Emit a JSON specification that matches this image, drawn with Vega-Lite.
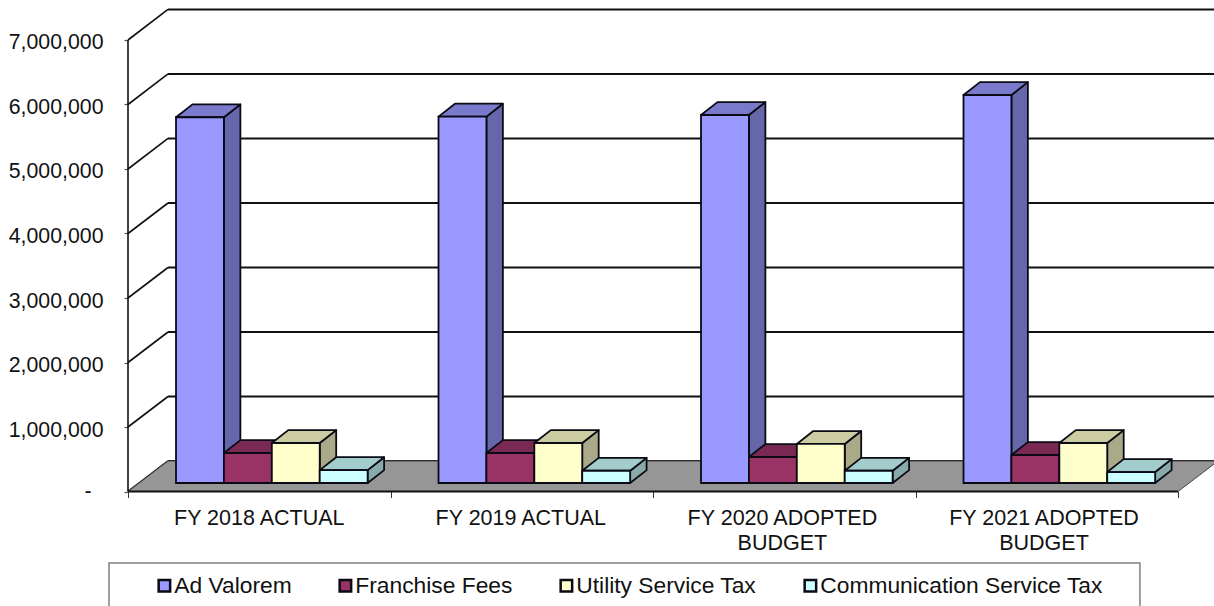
{
  "$schema": "https://vega.github.io/schema/vega-lite/v6.json",
  "width": 1214,
  "height": 606,
  "padding": 0,
  "autosize": "none",
  "background": "white",
  "config": {"view": {"stroke": null}, "text": {"font": "Liberation Sans"}},
  "datasets": {
    "bars": [
      {"category": "FY 2018 ACTUAL", "series": "Ad Valorem", "value": 5670000},
      {"category": "FY 2018 ACTUAL", "series": "Franchise Fees", "value": 465000},
      {"category": "FY 2018 ACTUAL", "series": "Utility Service Tax", "value": 620000},
      {"category": "FY 2018 ACTUAL", "series": "Communication Service Tax", "value": 200000},
      {"category": "FY 2019 ACTUAL", "series": "Ad Valorem", "value": 5680000},
      {"category": "FY 2019 ACTUAL", "series": "Franchise Fees", "value": 465000},
      {"category": "FY 2019 ACTUAL", "series": "Utility Service Tax", "value": 620000},
      {"category": "FY 2019 ACTUAL", "series": "Communication Service Tax", "value": 190000},
      {"category": "FY 2020 ADOPTED BUDGET", "series": "Ad Valorem", "value": 5705000},
      {"category": "FY 2020 ADOPTED BUDGET", "series": "Franchise Fees", "value": 403000},
      {"category": "FY 2020 ADOPTED BUDGET", "series": "Utility Service Tax", "value": 605000},
      {"category": "FY 2020 ADOPTED BUDGET", "series": "Communication Service Tax", "value": 190000},
      {"category": "FY 2021 ADOPTED BUDGET", "series": "Ad Valorem", "value": 6015000},
      {"category": "FY 2021 ADOPTED BUDGET", "series": "Franchise Fees", "value": 434000},
      {"category": "FY 2021 ADOPTED BUDGET", "series": "Utility Service Tax", "value": 620000},
      {"category": "FY 2021 ADOPTED BUDGET", "series": "Communication Service Tax", "value": 170000}
    ],
    "levels": [
      {"level": 0}, {"level": 1000000}, {"level": 2000000}, {"level": 3000000},
      {"level": 4000000}, {"level": 5000000}, {"level": 6000000}, {"level": 7000000}
    ],
    "categories": [
      {"category": "FY 2018 ACTUAL"},
      {"category": "FY 2019 ACTUAL"},
      {"category": "FY 2020 ADOPTED BUDGET"},
      {"category": "FY 2021 ADOPTED BUDGET"}
    ],
    "floorDepth": [{"depth": 0}, {"depth": 1}]
  },
  "resolve": {"axis": {"x": "independent", "y": "independent"}},
  "layer": [
    {
      "description": "Gridlines along the back wall, one per axis level",
      "data": {"name": "levels"},
      "transform": [{"calculate": "datum.level + 473000", "as": "backLevel"}],
      "mark": {"type": "rule", "stroke": "#111111", "strokeWidth": 2},
      "encoding": {
        "x": {"datum": 0.1524, "type": "quantitative", "scale": {"domain": [-0.48762, 4.13714], "nice": false, "zero": false}, "axis": null},
        "x2": {"datum": 4.13714},
        "y": {"field": "backLevel", "type": "quantitative", "scale": {"domain": [-1775000, 7620000], "nice": false, "zero": false}, "axis": null}
      }
    },
    {
      "description": "Diagonals across the side wall, joining axis ticks to the back gridlines",
      "data": {"name": "levels"},
      "transform": [{"calculate": "datum.level + 473000", "as": "backLevel"}],
      "mark": {"type": "rule", "stroke": "#111111", "strokeWidth": 1.6},
      "encoding": {
        "x": {"datum": 0, "type": "quantitative", "scale": {"domain": [-0.48762, 4.13714], "nice": false, "zero": false}, "axis": null},
        "x2": {"datum": 0.1524},
        "y": {"field": "level", "type": "quantitative", "scale": {"domain": [-1775000, 7620000], "nice": false, "zero": false},
          "axis": {"values": [0, 1000000, 2000000, 3000000, 4000000, 5000000, 6000000, 7000000], "labelExpr": "datum.value === 0 ? '' : format(datum.value, ',')", "orient": "left", "offset": -128, "domain": false, "grid": false, "title": null, "tickSize": 4, "tickColor": "#555555", "tickWidth": 1.2, "labelFont": "Liberation Sans", "labelFontSize": 21.3, "labelColor": "#111111", "labelPadding": 21, "labelOffset": 3, "labelOverlap": false, "labelBound": false, "labelFlush": false}},
        "y2": {"field": "backLevel"}
      }
    },
    {
      "description": "Dash standing for zero on the value axis, set in from the other labels",
      "data": {"values": [{}]},
      "mark": {"type": "text", "font": "Liberation Sans", "fontSize": 21.3, "fill": "#111111", "align": "center", "baseline": "middle", "text": "-"},
      "encoding": {
        "x": {"datum": -0.152, "type": "quantitative", "scale": {"domain": [-0.48762, 4.13714], "nice": false, "zero": false}, "axis": null},
        "y": {"datum": 0, "type": "quantitative", "scale": {"domain": [-1775000, 7620000], "nice": false, "zero": false}, "axis": null}
      }
    },
    {
      "description": "Gray floor of the plot box",
      "data": {"name": "floorDepth"},
      "transform": [
        {"calculate": "datum.depth * 0.1524", "as": "floorLeft"},
        {"calculate": "4 + datum.depth * 0.1524", "as": "floorRight"},
        {"calculate": "datum.depth * 473000", "as": "floorLevel"}
      ],
      "mark": {"type": "area", "orient": "horizontal", "fill": "#969696", "stroke": "#444444", "strokeWidth": 1},
      "encoding": {
        "y": {"field": "floorLevel", "type": "quantitative", "stack": false, "scale": {"domain": [-1775000, 7620000], "nice": false, "zero": false}, "axis": null},
        "x": {"field": "floorLeft", "type": "quantitative", "stack": false, "scale": {"domain": [-0.48762, 4.13714], "nice": false, "zero": false}, "axis": null},
        "x2": {"field": "floorRight"}
      }
    },
    {
      "description": "Vertical value axis line",
      "data": {"values": [{}]},
      "mark": {"type": "rule", "stroke": "#111111", "strokeWidth": 1.6},
      "encoding": {
        "x": {"datum": 0, "type": "quantitative", "scale": {"domain": [-0.48762, 4.13714], "nice": false, "zero": false}, "axis": null},
        "y": {"datum": 0, "type": "quantitative", "scale": {"domain": [-1775000, 7620000], "nice": false, "zero": false}, "axis": null},
        "y2": {"datum": 7000000}
      }
    },
    {
      "description": "Extruded columns: side faces, then top faces, then front faces, derived from each value",
      "data": {"name": "bars"},
      "transform": [
        {"calculate": "indexof(['FY 2018 ACTUAL','FY 2019 ACTUAL','FY 2020 ADOPTED BUDGET','FY 2021 ADOPTED BUDGET'], datum.category)", "as": "catIndex"},
        {"calculate": "indexof(['Ad Valorem','Franchise Fees','Utility Service Tax','Communication Service Tax'], datum.series)", "as": "serIndex"},
        {"calculate": "datum.catIndex + 0.1829 + datum.serIndex * 0.1825", "as": "barLeft"},
        {"calculate": "datum.barLeft + 0.1825", "as": "barRight"},
        {"calculate": "132000", "as": "base"},
        {"calculate": "datum.base + datum.value", "as": "barTop"}
      ],
      "layer": [
        {
          "transform": [
            {"calculate": "[0, 1]", "as": "t"},
            {"flatten": ["t"]},
            {"calculate": "datum.barRight + datum.t * 0.0627", "as": "faceX"},
            {"calculate": "datum.barTop + datum.t * 200000", "as": "faceTop"},
            {"calculate": "datum.base + datum.t * 200000", "as": "faceBottom"}
          ],
          "mark": {"type": "area", "stroke": "#0a0a14", "strokeWidth": 1.8, "strokeJoin": "round"},
          "encoding": {
            "x": {"field": "faceX", "type": "quantitative", "stack": false, "scale": {"domain": [-0.48762, 4.13714], "nice": false, "zero": false}, "axis": null},
            "y": {"field": "faceTop", "type": "quantitative", "stack": false, "scale": {"domain": [-1775000, 7620000], "nice": false, "zero": false}, "axis": null},
            "y2": {"field": "faceBottom"},
            "color": {"field": "series", "type": "nominal", "legend": null, "scale": {"domain": ["Ad Valorem", "Franchise Fees", "Utility Service Tax", "Communication Service Tax"], "range": ["#6666AA", "#662244", "#AAAA88", "#88AAAA"]}},
            "detail": {"field": "category"}
          }
        },
        {
          "transform": [
            {"calculate": "[0, 1]", "as": "t"},
            {"flatten": ["t"]},
            {"calculate": "datum.barLeft + datum.t * 0.0627", "as": "faceLeft"},
            {"calculate": "datum.barRight + datum.t * 0.0627", "as": "faceRight"},
            {"calculate": "datum.barTop + datum.t * 200000", "as": "faceLevel"}
          ],
          "mark": {"type": "area", "orient": "horizontal", "stroke": "#0a0a14", "strokeWidth": 1.8, "strokeJoin": "round"},
          "encoding": {
            "y": {"field": "faceLevel", "type": "quantitative", "stack": false, "scale": {"domain": [-1775000, 7620000], "nice": false, "zero": false}, "axis": null},
            "x": {"field": "faceLeft", "type": "quantitative", "stack": false, "scale": {"domain": [-0.48762, 4.13714], "nice": false, "zero": false}, "axis": null},
            "x2": {"field": "faceRight"},
            "color": {"field": "series", "type": "nominal", "legend": null, "scale": {"domain": ["Ad Valorem", "Franchise Fees", "Utility Service Tax", "Communication Service Tax"], "range": ["#7A7ACC", "#7A2952", "#CCCCA3", "#A3CCCC"]}},
            "detail": {"field": "category"}
          }
        },
        {
          "mark": {"type": "rect", "stroke": "#0a0a14", "strokeWidth": 1.8},
          "encoding": {
            "x": {"field": "barLeft", "type": "quantitative", "scale": {"domain": [-0.48762, 4.13714], "nice": false, "zero": false}, "axis": null},
            "x2": {"field": "barRight"},
            "y": {"field": "barTop", "type": "quantitative", "scale": {"domain": [-1775000, 7620000], "nice": false, "zero": false}, "axis": null},
            "y2": {"field": "base"},
            "color": {
              "field": "series", "type": "nominal",
              "scale": {"domain": ["Ad Valorem", "Franchise Fees", "Utility Service Tax", "Communication Service Tax"], "range": ["#9999FF", "#993366", "#FFFFCC", "#CCFFFF"]},
              "legend": {
                "orient": "none", "legendX": 153, "legendY": 574, "direction": "horizontal", "columns": 4, "title": null,
                "symbolType": "square", "symbolSize": 132, "symbolStrokeColor": "#0a0a14", "symbolStrokeWidth": 2.5,
                "labelFont": "Liberation Sans", "labelFontSize": 22.8, "labelColor": "#111111", "labelOffset": -1.5, "labelLimit": 400,
                "columnPadding": 42, "padding": 0, "symbolOpacity": 1
              }
            }
          }
        }
      ],
      "resolve": {"scale": {"color": "independent"}}
    },
    {
      "description": "Front edge of the floor, carrying the category tick marks",
      "data": {"values": [{}]},
      "mark": {"type": "rule", "stroke": "#111111", "strokeWidth": 2},
      "encoding": {
        "x": {"datum": 0, "type": "quantitative", "scale": {"domain": [-0.48762, 4.13714], "nice": false, "zero": false},
          "axis": {"values": [0, 1, 2, 3, 4], "orient": "bottom", "offset": -114.5, "labels": false, "domain": false, "grid": false, "title": null, "tickSize": 6, "tickColor": "#333333", "tickWidth": 1}},
        "x2": {"datum": 4},
        "y": {"datum": 0, "type": "quantitative", "scale": {"domain": [-1775000, 7620000], "nice": false, "zero": false}, "axis": null}
      }
    },
    {
      "description": "Category names below the floor, wrapped after ADOPTED",
      "data": {"name": "categories"},
      "transform": [
        {"calculate": "indexof(['FY 2018 ACTUAL','FY 2019 ACTUAL','FY 2020 ADOPTED BUDGET','FY 2021 ADOPTED BUDGET'], datum.category) * 0.9965 + 0.5", "as": "center"},
        {"calculate": "replace(datum.category, 'ADOPTED ', 'ADOPTED\\n')", "as": "wrapped"}
      ],
      "mark": {"type": "text", "font": "Liberation Sans", "fontSize": 21.5, "fill": "#111111", "align": "center", "baseline": "top", "lineBreak": "\n", "lineHeight": 25},
      "encoding": {
        "x": {"field": "center", "type": "quantitative", "scale": {"domain": [-0.48762, 4.13714], "nice": false, "zero": false}, "axis": null},
        "y": {"datum": -255000, "type": "quantitative", "scale": {"domain": [-1775000, 7620000], "nice": false, "zero": false}, "axis": null},
        "text": {"field": "wrapped"}
      }
    },
    {
      "description": "Frame around the legend, running off the bottom of the chart",
      "data": {"values": [{}]},
      "mark": {"type": "rect", "fill": null, "stroke": "#808080", "strokeWidth": 1.5},
      "encoding": {
        "x": {"datum": -0.0724, "type": "quantitative", "scale": {"domain": [-0.48762, 4.13714], "nice": false, "zero": false}, "axis": null},
        "x2": {"datum": 3.855},
        "y": {"datum": -1108500, "type": "quantitative", "scale": {"domain": [-1775000, 7620000], "nice": false, "zero": false}, "axis": null},
        "y2": {"datum": -1900000}
      }
    }
  ]
}
